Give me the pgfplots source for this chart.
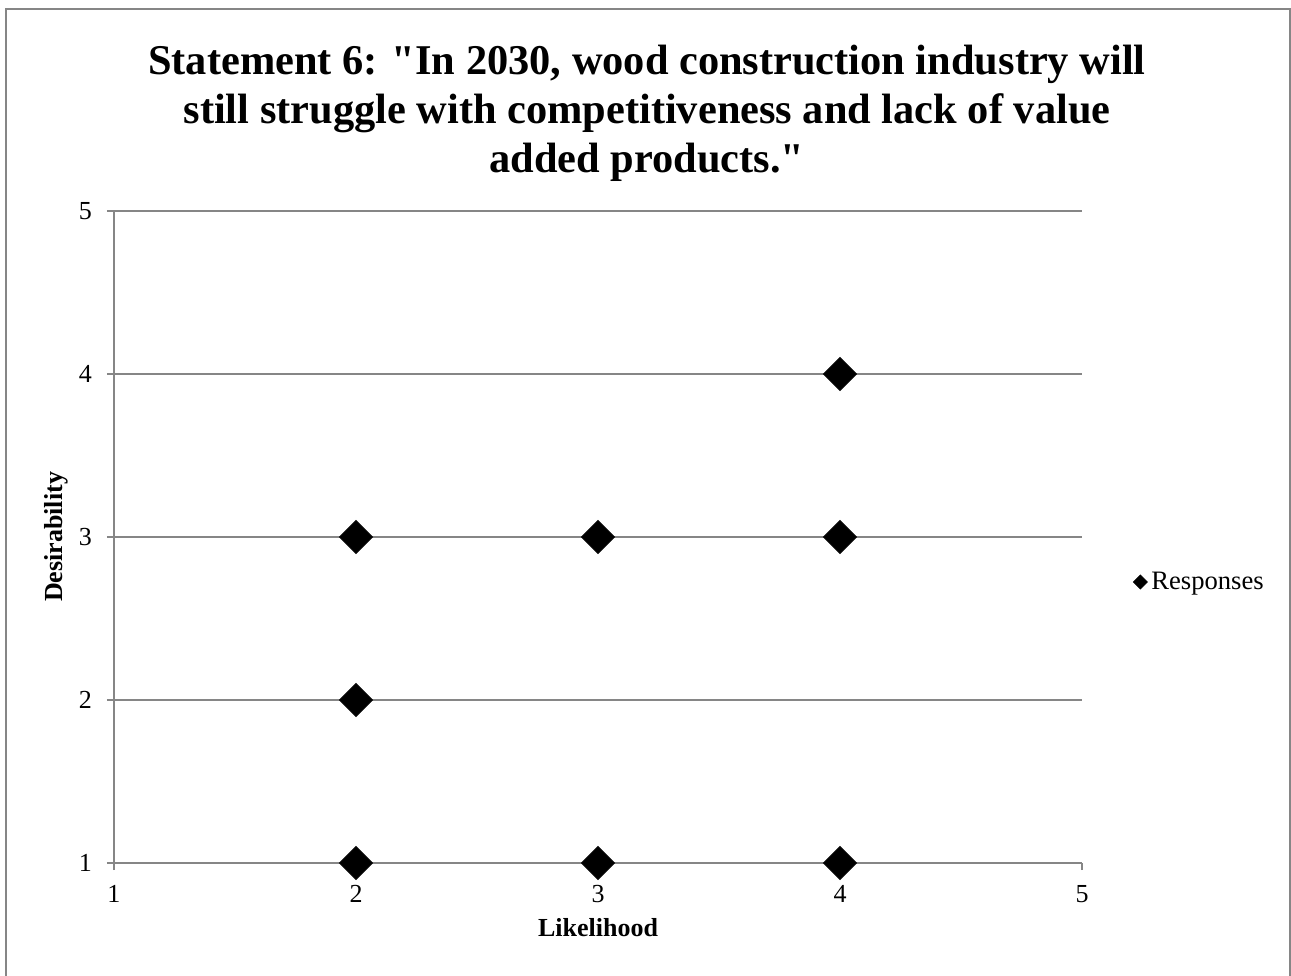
\documentclass[border=0pt]{standalone}
\usepackage{pgfplots}
\pgfplotsset{compat=1.18}
\usepackage{fontspec}
\setmainfont{Liberation Serif}[Ligatures=TeXOff]
\definecolor{gridgray}{RGB}{134,134,134}

\pgfplotstableread{
x y
2 3
3 3
4 3
4 4
2 2
2 1
3 1
4 1
}\responses

\begin{document}
\begin{tikzpicture}[x=0.5pt,y=0.5pt]
  % page frame, 1291 x 975 units
  \useasboundingbox (0,0) rectangle (1291,975);
  \draw[gridgray, line width=1pt] (6,-20) -- (6,965.5) -- (1290,965.5) -- (1290,-20);
  \begin{axis}[
    at={(57pt,56pt)}, anchor=south west,
    scale only axis,
    width=484pt, height=326pt,
    xmin=1, xmax=5, ymin=1, ymax=5,
    xtick={1,2,3,4,5}, ytick={1,2,3,4,5},
    axis x line*=bottom, axis y line*=left,
    axis line style={gridgray, line width=1pt, -},
    ymajorgrids,
    grid style={gridgray, line width=1pt},
    major tick style={gridgray, line width=1pt},
    tick align=outside,
    major tick length=3.5pt,
    /pgf/number format/assume math mode=true,
    tick label style={font=\fontsize{13}{15}\selectfont},
    xticklabel style={yshift=-4pt},
    yticklabel style={xshift=-4pt},
    xlabel={Likelihood},
    ylabel={Desirability},
    label style={font=\fontsize{13}{15}\selectfont\bfseries},
    xlabel style={at={(axis description cs:0.5,-0.1135)}, anchor=base, inner sep=0pt},
    ylabel style={at={(axis description cs:-0.053,0.5)}, anchor=base, inner sep=0pt},
    title={Statement 6: "In 2030, wood construction industry will\\still struggle with competitiveness and lack of value\\added products."},
    title style={at={(axis description cs:0.5506,1.0)}, anchor=south, yshift=8.5pt,
      align=center, inner sep=0pt,
      font=\fontsize{21.2}{24.5}\selectfont\bfseries},
    legend style={at={(axis description cs:1.0527,0.431)}, anchor=west,
      draw=none, fill=none, inner sep=0pt,
      font=\fontsize{13.3}{15}\selectfont},
    legend image code/.code={%
      \draw[mark=square*, mark size=2.47pt, mark options={rotate=45, fill=black, draw=black}]
        plot coordinates {(0pt,0pt)};},
  ]
    \addplot[only marks, mark=square*, mark size=5.83pt,
      mark options={rotate=45, fill=black, draw=black}] table {\responses};
    \addlegendentry{Responses}
  \end{axis}
\end{tikzpicture}
\end{document}
